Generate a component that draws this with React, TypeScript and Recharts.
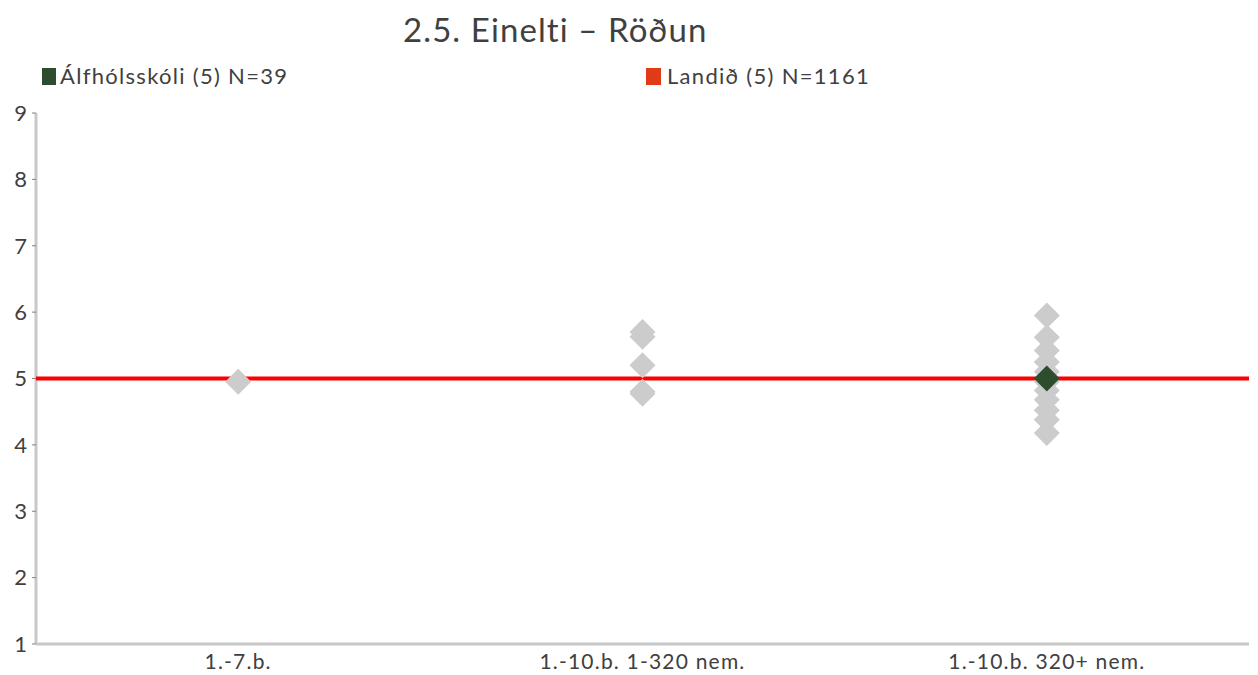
import React from 'react';
import { ScatterChart, Scatter, XAxis, YAxis } from 'recharts';

const categories = ['1.-7.b.', '1.-10.b. 1-320 nem.', '1.-10.b. 320+ nem.'];
const yTicks = [1, 2, 3, 4, 5, 6, 7, 8, 9];

// other schools, per group
const othersSmall = [4.95];
const othersMid = [5.7, 5.63, 5.2, 4.8, 4.77];
const othersLarge = [5.95, 5.62, 5.42, 5.25, 5.1, 4.95, 4.82, 4.68, 4.52, 4.38, 4.18];

// Álfhólsskóli is in the 320+ group
const schoolGroup = 2;
const schoolValue = 5.0;
const landidValue = 5;

const titleText = '2.5. Einelti – Röðun';
const schoolLabel = 'Álfhólsskóli (5) N=39';
const landidLabel = 'Landið (5) N=1161';

const FONT = 'Lato, "Open Sans", sans-serif';
const TEXT = '#404040';
const GREY = '#CCCCCC';
const GREEN = '#2E4D2E';
const RED = '#FF0000';

const othersData = [othersSmall, othersMid, othersLarge].flatMap((vals, i) =>
    vals.map((v) => ({ x: i + 0.5, y: v }))
);
const schoolData = [{ x: schoolGroup + 0.5, y: schoolValue }];
const landidData = [
    { x: 0, y: landidValue },
    { x: categories.length, y: landidValue },
];

const Diamond = (color: string) => (props: any) => {
    const { cx, cy } = props;
    if (cx == null || cy == null) return null;
    const h = 13;
    return (
        <path
            d={`M${cx},${cy - h} L${cx + h},${cy} L${cx},${cy + h} L${cx - h},${cy} Z`}
            fill={color}
        />
    );
};

const legendStyle: React.CSSProperties = {
    position: 'absolute',
    top: 65,
    display: 'flex',
    alignItems: 'center',
    fontSize: 22,
    color: TEXT,
    lineHeight: 1,
    letterSpacing: 1.3,
    whiteSpace: 'nowrap',
};

export default function App() {
    return (
        <div style={{ position: 'absolute', left: 0, top: 0, width: 1258, height: 675, background: '#fff', fontFamily: FONT }}>
            <div style={{ position: 'absolute', left: 403, top: 13, fontSize: 33, color: TEXT, lineHeight: 1, letterSpacing: 1.1, whiteSpace: 'nowrap' }}>
                {titleText}
            </div>
            <div style={{ ...legendStyle, left: 42 }}>
                <span style={{ display: 'inline-block', width: 14, height: 17, background: GREEN, marginRight: 4 }} />
                {schoolLabel}
            </div>
            <div style={{ ...legendStyle, left: 646 }}>
                <span style={{ display: 'inline-block', width: 15, height: 17, background: '#E03A16', marginRight: 6 }} />
                {landidLabel}
            </div>
            <div style={{ position: 'absolute', left: 0, top: 0 }}>
                <ScatterChart width={1258} height={675} margin={{ top: 113, right: 9, bottom: 0, left: 0 }}>
                    <XAxis
                        type="number"
                        dataKey="x"
                        domain={[0, categories.length]}
                        ticks={categories.map((_, i) => i + 0.5)}
                        tickFormatter={(v: number) => categories[Math.floor(v)]}
                        height={31}
                        tickLine={false}
                        tickMargin={4}
                        axisLine={{ stroke: '#C8C8C8', strokeWidth: 3 }}
                        tick={{ fill: TEXT, fontSize: 21, fontFamily: FONT, letterSpacing: 1.2 }}
                        interval={0}
                    />
                    <YAxis
                        type="number"
                        dataKey="y"
                        domain={[1, 9]}
                        ticks={yTicks}
                        width={36}
                        tickSize={4}
                        tickMargin={5}
                        tickLine={{ stroke: '#808080' }}
                        axisLine={{ stroke: '#C8C8C8', strokeWidth: 3 }}
                        tick={{ fill: TEXT, fontSize: 22, fontFamily: FONT }}
                        interval={0}
                    />
                    <Scatter
                        data={landidData}
                        line={{ stroke: RED, strokeWidth: 4 }}
                        shape={() => null}
                        isAnimationActive={false}
                    />
                    <Scatter data={othersData} shape={Diamond(GREY)} isAnimationActive={false} />
                    <Scatter data={schoolData} shape={Diamond(GREEN)} isAnimationActive={false} />
                </ScatterChart>
            </div>
        </div>
    );
}
